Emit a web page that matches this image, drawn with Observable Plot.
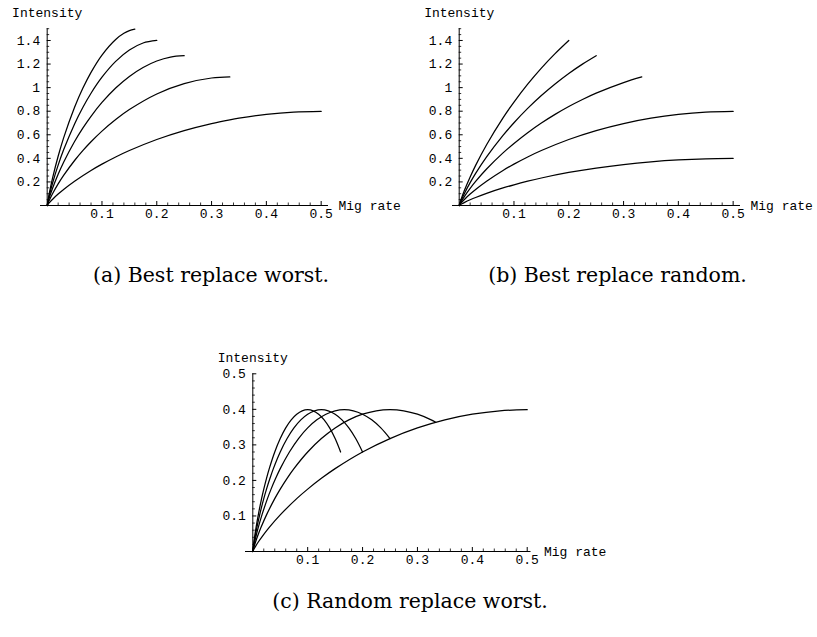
<!DOCTYPE html>
<html><head><meta charset="utf-8">
<script src="https://cdn.jsdelivr.net/npm/d3@7"></script>
<script src="https://cdn.jsdelivr.net/npm/@observablehq/plot@0.6"></script>
<style>
html,body{margin:0;padding:0;background:#fff;}
#root{position:relative;width:817px;height:637px;overflow:hidden;background:#fff;}
.panel{position:absolute;}
.cap{position:absolute;font-family:"DejaVu Serif",serif;font-size:20.5px;line-height:20px;white-space:nowrap;transform:translateX(-50%);color:#000;}
</style></head><body><div id="root"></div>
<script>
// ---------- Panel (a): Best replace worst ----------
const a1x = [0,.0025,.005,.01,.02,.03,.05,.08,.1,.125,.15,.2,.25,.3,.3333,.35,.4,.45,.5];
const a1y = [0,.0155,.0289,.0533,.0968,.1362,.2062,.2974,.3510,.4118,.4664,.5600,.6356,.6954,.7272,.7408,.7726,.7916,.7978];
const a2x = [0,.0025,.005,.01,.02,.03,.05,.065,.08,.1,.125,.15,.2,.25,.3,.3333];
const a2y = [0,.0300,.0556,.1017,.1830,.2553,.3817,.4651,.5407,.6310,.7296,.8141,.9463,1.0345,1.0817,1.0908];
const a3x = [0,.0025,.005,.01,.02,.03,.05,.065,.08,.1,.125,.15,.175,.2,.225,.25];
const a3y = [0,.0440,.0813,.1481,.2643,.3667,.5425,.6561,.7570,.8742,.9969,1.0954,1.1712,1.2263,1.2596,1.2712];
const a4x = [0,.0025,.005,.01,.02,.03,.05,.065,.08,.1,.125,.15,.175,.2];
const a4y = [0,.0577,.1062,.1928,.3423,.4724,.6924,.8315,.9524,1.0883,1.2225,1.3191,1.3785,1.4000];
const a5x = [0,.0025,.005,.01,.02,.03,.05,.065,.08,.1,.125,.14,.15,.16];
const a5y = [0,.0712,.1308,.2364,.4175,.5737,.8333,.9939,1.1298,1.2764,1.4087,1.4607,1.4838,1.4965];

// ---------- Panel (b): Best replace random ----------
const b1x = [0,.0025,.005,.01,.02,.03,.05,.08,.1,.125,.15,.2,.25,.3,.35,.4,.45,.5];
const b1y = [0,.0078,.0145,.0267,.0484,.0681,.1031,.1487,.1755,.2059,.2332,.2800,.3178,.3477,.3704,.3863,.3958,.3989];
const b2x = [0,.0025,.005,.01,.02,.03,.05,.08,.1,.125,.15,.2,.25,.3,.35,.4,.45,.5];
const b2y = [0,.0155,.0289,.0533,.0968,.1362,.2062,.2974,.3510,.4118,.4664,.5600,.6356,.6954,.7408,.7726,.7916,.7978];
const b3x = [0,.0025,.005,.01,.02,.03,.05,.08,.1,.125,.15,.175,.2,.225,.25,.3,.3333];
const b3y = [0,.0233,.0434,.0800,.1452,.2043,.3093,.4461,.5265,.6177,.6996,.7731,.8400,.8997,.9534,1.0431,1.0908];
const b4x = [0,.0025,.005,.01,.02,.03,.05,.08,.1,.125,.15,.175,.2,.225,.25];
const b4y = [0,.0310,.0578,.1066,.1936,.2724,.4124,.5948,.7020,.8236,.9328,1.0308,1.1200,1.1996,1.2712];
const b5x = [0,.0025,.005,.01,.02,.03,.05,.08,.1,.125,.15,.175,.2];
const b5y = [0,.0388,.0723,.1333,.2420,.3405,.5155,.7435,.8775,1.0295,1.1660,1.2885,1.4000];

// ---------- Panel (c): Random replace worst ----------
const c1x = [0,.0025,.005,.01,.02,.03,.05,.08,.1,.125,.15,.2,.25,.3,.35,.4,.45,.5];
const c1y = [0,.0078,.0145,.0267,.0484,.0681,.1031,.1487,.1755,.2059,.2332,.2800,.3178,.3477,.3704,.3863,.3958,.3989];
const c2x = [0,.00125,.0025,.005,.01,.015,.025,.04,.05,.0625,.075,.1,.125,.15,.175,.2,.225,.25,.275,.3,.325,.3333];
const c2y = [0,.0078,.0145,.0267,.0484,.0681,.1031,.1487,.1755,.2059,.2332,.2800,.3178,.3477,.3704,.3863,.3958,.3989,.3958,.3863,.3704,.3636];
const c3x = [0,.0008,.0017,.0033,.0067,.01,.0167,.0267,.0333,.0417,.05,.0667,.0833,.1,.1167,.1333,.15,.1667,.1833,.2,.2167,.2333,.25];
const c3y = [0,.0078,.0145,.0267,.0484,.0681,.1031,.1487,.1755,.2059,.2332,.2800,.3178,.3477,.3704,.3863,.3958,.3989,.3958,.3863,.3704,.3477,.3178];
const c4x = [0,.0006,.0013,.0025,.005,.0075,.0125,.02,.025,.0313,.0375,.05,.0625,.075,.0875,.1,.1125,.125,.1375,.15,.1625,.175,.1875,.2];
const c4y = [0,.0078,.0145,.0267,.0484,.0681,.1031,.1487,.1755,.2059,.2332,.2800,.3178,.3477,.3704,.3863,.3958,.3989,.3958,.3863,.3704,.3477,.3178,.2800];
const c5x = [0,.0005,.001,.002,.004,.006,.01,.016,.02,.025,.03,.04,.05,.06,.07,.08,.09,.1,.11,.12,.13,.14,.15,.16];
const c5y = [0,.0078,.0145,.0267,.0484,.0681,.1031,.1487,.1755,.2059,.2332,.2800,.3178,.3477,.3704,.3863,.3958,.3989,.3958,.3863,.3704,.3477,.3178,.2800];

// ---------- Ticks and labels ----------
const xTicks = [0.1, 0.2, 0.3, 0.4, 0.5];
const xTickLabels = ["0.1", "0.2", "0.3", "0.4", "0.5"];
const yTicksAB = [0.2, 0.4, 0.6, 0.8, 1.0, 1.2, 1.4];
const yTickLabelsAB = ["0.2", "0.4", "0.6", "0.8", "1", "1.2", "1.4"];
const yTicksC = [0.1, 0.2, 0.3, 0.4, 0.5];
const yTickLabelsC = ["0.1", "0.2", "0.3", "0.4", "0.5"];
const xAxisTitle = "Mig rate";
const yAxisTitle = "Intensity";
const captions = ["(a) Best replace worst.", "(b) Best replace random.", "(c) Random replace worst."];

function toRows(pairs) {
  const rows = [];
  pairs.forEach(([xs, ys], s) => xs.forEach((x, i) => rows.push({x, y: ys[i], s})));
  return rows;
}
function minorTicks(step, max, majorStep) {
  const out = [];
  for (let k = 1; k * step <= max + 1e-9; k++) {
    const v = Math.round(k * step * 10000) / 10000;
    const r = v / majorStep;
    if (Math.abs(r - Math.round(r)) > 1e-6) out.push(v);
  }
  return out;
}

const MONO = "Liberation Mono, DejaVu Sans Mono, monospace";
const FS = 13;

function panel(cfg) {
  const {rows, xDom, yMax, yTicks, yLabels, yMinor, xMinor, width, height, mL, mR, mT, mB, left, top, titleDx} = cfg;
  const chart = Plot.plot({
    width, height,
    marginLeft: mL, marginRight: mR, marginTop: mT, marginBottom: mB,
    x: {domain: xDom, axis: null},
    y: {domain: [0, yMax], axis: null},
    style: {background: "transparent", overflow: "visible"},
    marks: [
      Plot.ruleY([0], {x1: xDom[0], x2: xDom[1], stroke: "black", strokeWidth: 1}),
      Plot.ruleX([0], {y1: 0, y2: yMax, stroke: "black", strokeWidth: 1}),
      Plot.ruleX(xTicks, {x: d => d, y1: 0, y2: 0, insetTop: -4, stroke: "black", strokeWidth: 1}),
      Plot.ruleX(xMinor, {x: d => d, y1: 0, y2: 0, insetTop: -2.5, stroke: "black", strokeWidth: 0.8}),
      Plot.ruleY(yTicks, {y: d => d, x1: 0, x2: 0, insetRight: -4, stroke: "black", strokeWidth: 1}),
      Plot.ruleY(yMinor, {y: d => d, x1: 0, x2: 0, insetRight: -2.5, stroke: "black", strokeWidth: 0.8}),
      Plot.text(xTicks, {x: d => d, y: 0, text: (d, i) => xTickLabels[i], dy: 8.5, fontFamily: MONO, fontSize: FS, fill: "black"}),
      Plot.text(yTicks, {x: 0, y: d => d, text: (d, i) => yLabels[i], dx: -7, textAnchor: "end", fontFamily: MONO, fontSize: FS, fill: "black"}),
      Plot.text([yAxisTitle], {x: 0, y: yMax, text: d => d, dy: -16, fontFamily: MONO, fontSize: FS, fill: "black"}),
      Plot.text([xAxisTitle], {x: xDom[1], y: 0, text: d => d, dx: titleDx, textAnchor: "start", fontFamily: MONO, fontSize: FS, fill: "black"}),
      Plot.line(rows, {x: "x", y: "y", z: "s", curve: "catmull-rom", stroke: "black", strokeWidth: 1.25})
    ]
  });
  chart.classList.add("panel");
  chart.style.left = left + "px";
  chart.style.top = top + "px";
  chart.style.position = "absolute";
  return chart;
}

const root = document.getElementById("root");
const xMinorAll = minorTicks(0.02, 0.5, 0.1);
const yMinorAB = minorTicks(0.05, 1.5, 0.2);
const yMinorC = minorTicks(0.02, 0.5, 0.1);

root.appendChild(panel({
  rows: toRows([[a1x,a1y],[a2x,a2y],[a3x,a3y],[a4x,a4y],[a5x,a5y]]),
  xDom: [-0.0122, 0.5134], yMax: 1.5, yTicks: yTicksAB, yLabels: yTickLabelsAB,
  yMinor: yMinorAB, xMinor: xMinorAll,
  width: 410, height: 235, mL: 40, mR: 82, mT: 28.2, mB: 30, left: 0, top: 0, titleDx: 10
}));
root.appendChild(panel({
  rows: toRows([[b1x,b1y],[b2x,b2y],[b3x,b3y],[b4x,b4y],[b5x,b5y]]),
  xDom: [-0.0122, 0.5134], yMax: 1.5, yTicks: yTicksAB, yLabels: yTickLabelsAB,
  yMinor: yMinorAB, xMinor: xMinorAll,
  width: 405.4, height: 235, mL: 40, mR: 77.4, mT: 28.2, mB: 30, left: 411.6, top: 0, titleDx: 10
}));
root.appendChild(panel({
  rows: toRows([[c1x,c1y],[c2x,c2y],[c3x,c3y],[c4x,c4y],[c5x,c5y]]),
  xDom: [-0.0133, 0.5069], yMax: 0.5, yTicks: yTicksC, yLabels: yTickLabelsC,
  yMinor: yMinorC, xMinor: xMinorAll,
  width: 412, height: 240, mL: 40, mR: 86.5, mT: 33.3, mB: 29, left: 205, top: 340, titleDx: 13
}));

const capPos = [[211, 265], [617.5, 265], [410, 591]];
captions.forEach((t, i) => {
  const d = document.createElement("div");
  d.className = "cap";
  d.textContent = t;
  d.style.left = capPos[i][0] + "px";
  d.style.top = capPos[i][1] + "px";
  root.appendChild(d);
});
</script>
</body></html>
